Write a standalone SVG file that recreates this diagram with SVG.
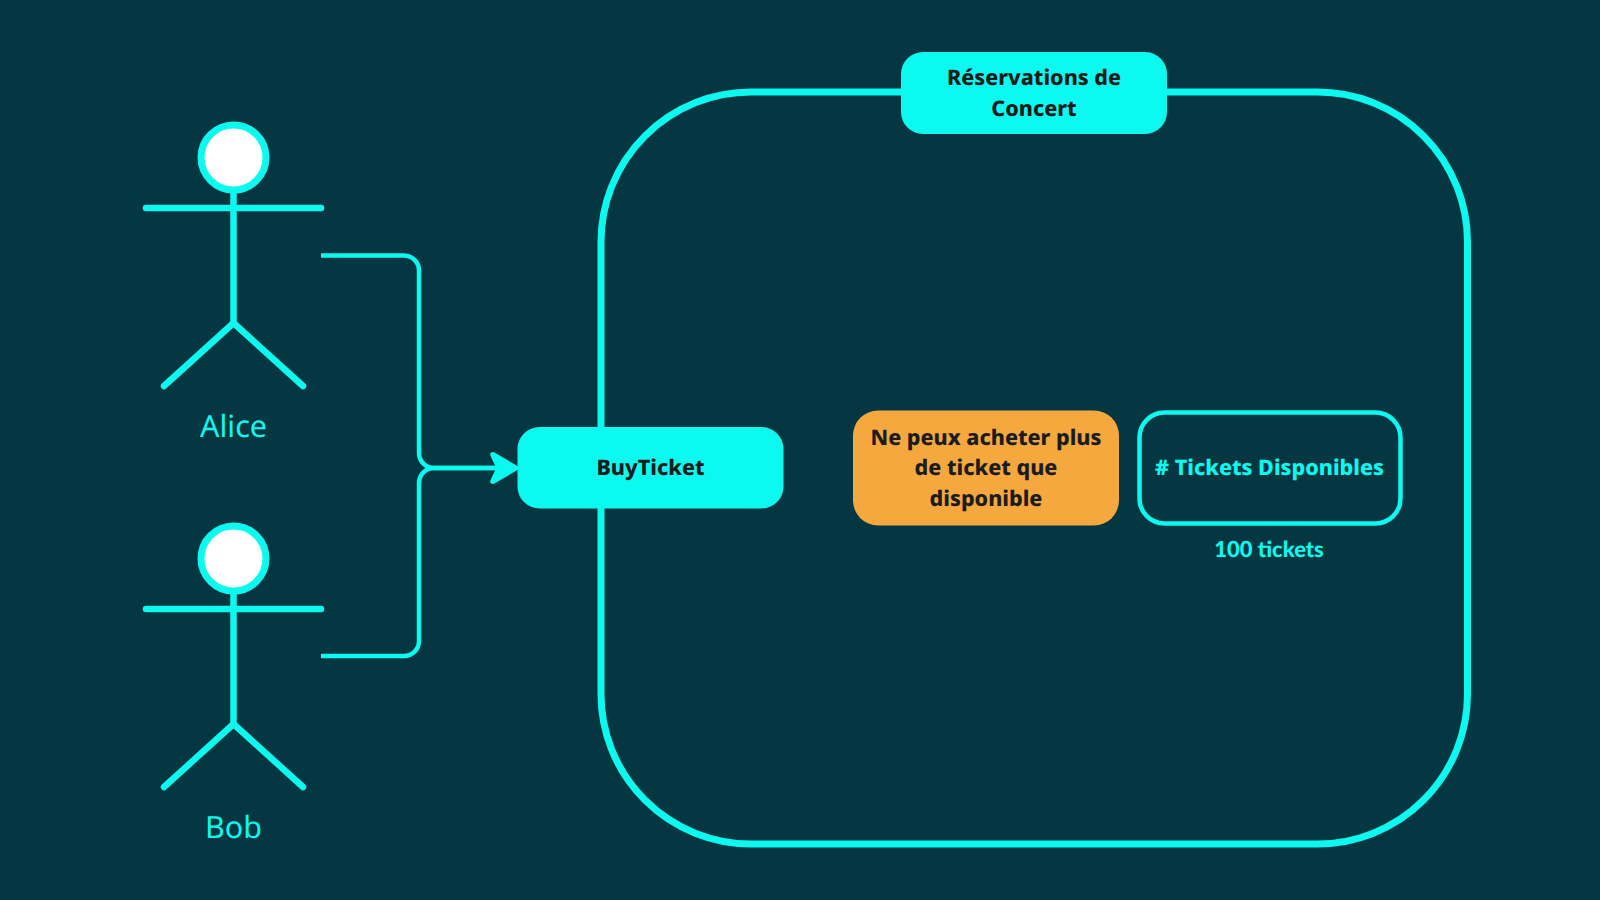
<svg xmlns="http://www.w3.org/2000/svg" width="1600" height="900" viewBox="0 0 1600 900">
<style>
text{text-rendering:geometricPrecision}
.ln{fill:none;stroke:#0bf9ee;stroke-linecap:round;stroke-linejoin:round}
.fig{stroke-width:6.5}
.head{fill:#fff;stroke:#0bf9ee;stroke-width:7}
.bold{font-family:"Noto Sans","Open Sans",sans-serif;font-weight:800;font-size:21.5px;text-anchor:middle;fill:#1c1c1e}
.cy{fill:#0bf9ee}
.name{font-family:"Noto Sans","Open Sans",sans-serif;font-size:30.5px;text-anchor:middle;fill:#0bf9ee}
</style>
<defs>
<g id="actor">
<line class="ln fig" x1="233.5" y1="190" x2="233.5" y2="323"/>
<circle class="head" cx="233.5" cy="157.5" r="32.5"/>
<line class="ln fig" x1="146" y1="208" x2="321" y2="208"/>
<polyline class="ln fig" points="164,386 233.5,323 303,386"/>
</g>
</defs>
<rect width="1600" height="900" fill="#053742"/>
<g id="frame"><rect class="ln" style="stroke-width:7" x="601" y="92" width="866.5" height="752" rx="150" ry="150"/></g>
<g id="connectors">
<path class="ln" style="stroke-width:4.5;stroke-linecap:butt" d="M321 255.5H404a15 15 0 0 1 15 15V453a15 15 0 0 0 15 15H505"/>
<path class="ln" style="stroke-width:4.5;stroke-linecap:butt" d="M321 656H404a15 15 0 0 0 15-15V483a15 15 0 0 1 15-15H505"/>
<path d="M518 468L494 454Q491 452.5 492 455.5L498 468L492 480.5Q491 483.5 494 482Z" fill="#0bf9ee" stroke="#0bf9ee" stroke-width="3" stroke-linejoin="round"/>
</g>
<g id="alice"><use href="#actor"/><text class="name" x="233.5" y="437">Alice</text></g>
<g id="bob"><use href="#actor" y="401"/><text class="name" x="233.5" y="838">Bob</text></g>
<g id="title"><rect class="cy" x="901" y="52" width="266" height="82" rx="22"/>
<text class="bold" x="1034" y="85">Réservations de</text><text class="bold" x="1034" y="115.5">Concert</text></g>
<g id="buyticket"><rect class="cy" x="517.5" y="427" width="266" height="81.5" rx="22"/>
<text class="bold" x="650.5" y="475">BuyTicket</text></g>
<g id="rule"><rect fill="#f4a83e" x="853" y="410.5" width="266" height="115" rx="25"/>
<text class="bold" x="986" y="445">Ne peux acheter plus</text><text class="bold" x="986" y="475">de ticket que</text><text class="bold" x="986" y="506">disponible</text></g>
<g id="tickets"><rect class="ln" style="stroke-width:4.5" x="1139.5" y="412.5" width="261" height="111" rx="25"/>
<text class="bold" style="fill:#0bf9ee" x="1269.5" y="475"># Tickets Disponibles</text></g>
<text class="bold" id="count" style="fill:#0bf9ee;font-size:22px;font-family:Lato,sans-serif;font-weight:900" x="1269" y="557">100 tickets</text>
</svg>
